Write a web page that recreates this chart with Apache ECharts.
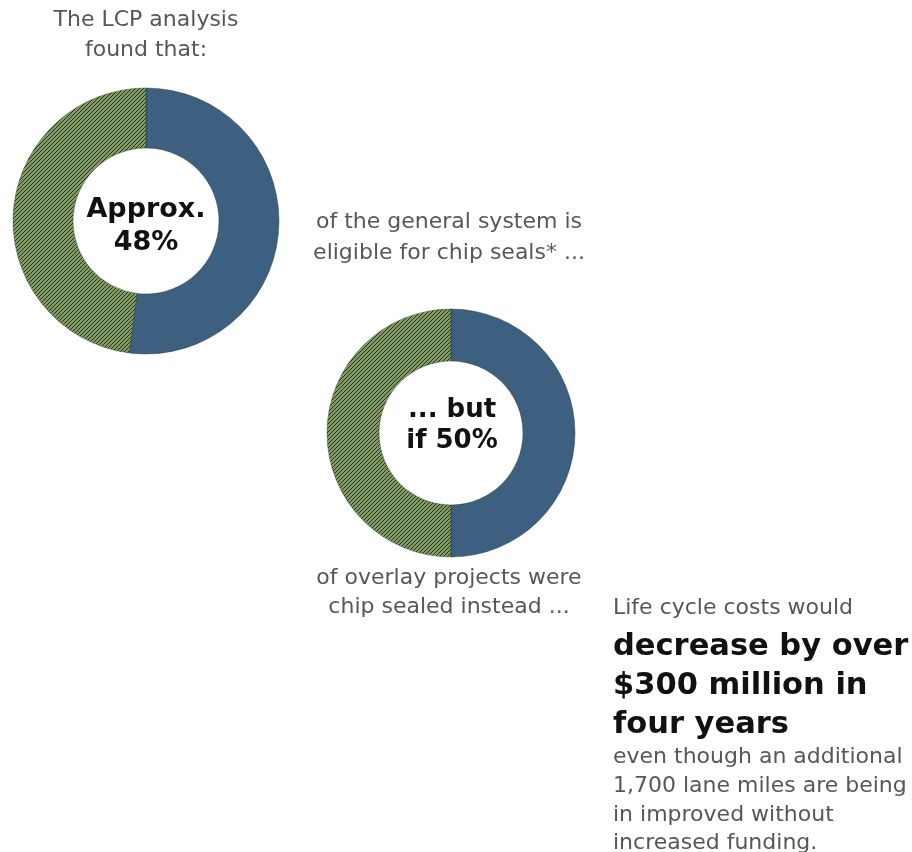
<!DOCTYPE html>
<html>
<head>
<meta charset="utf-8">
<script src="https://cdn.jsdelivr.net/npm/echarts@6/dist/echarts.min.js"></script>
<style>
  html, body { margin: 0; padding: 0; background: #ffffff; }
  #chart { width: 912px; height: 852px; }
</style>
</head>
<body>
<div id="chart"></div>
<script>
// Share of the general system eligible for chip seals
const eligibleNames = ['Not eligible', 'Eligible for chip seals'];
const eligibleValues = [52, 48];

// Share of overlay projects switched to chip seals
const overlayNames = ['Overlay', 'Chip sealed instead'];
const overlayValues = [50, 50];

const FONT = '"DejaVu Sans", Verdana, sans-serif';
const GRAY = '#575757';
const BLUE = '#3d5f80';

// Diagonal hatch used for the chip-seal share
function hatchPattern() {
  const c = document.createElement('canvas');
  c.width = 4; c.height = 4;
  const g = c.getContext('2d');
  g.fillStyle = '#7f9a62';
  g.fillRect(0, 0, 4, 4);
  g.strokeStyle = '#2a3420';
  g.lineWidth = 1.0;
  g.beginPath();
  g.moveTo(0, 4); g.lineTo(4, 0);
  g.moveTo(-1, 1); g.lineTo(1, -1);
  g.moveTo(3, 5); g.lineTo(5, 3);
  g.stroke();
  return c;
}
const hatch = { image: hatchPattern(), repeat: 'repeat' };

function donut(names, values, center, radius) {
  return {
    type: 'pie',
    center: center,
    radius: radius,
    startAngle: 90,
    clockwise: true,
    silent: true,
    label: { show: false },
    labelLine: { show: false },
    data: values.map((v, i) => ({
      name: names[i],
      value: v,
      itemStyle: { color: i === 0 ? BLUE : hatch, borderColor: '#1e2a1a', borderWidth: 0.4 }
    }))
  };
}

function text(x, y, str, size, opts) {
  opts = opts || {};
  return {
    type: 'text',
    x: x, y: y,
    style: {
      text: str,
      font: (opts.weight || 'normal') + ' ' + size + 'px ' + FONT,
      fill: opts.fill || GRAY,
      align: opts.align || 'center',
      verticalAlign: 'middle'
    }
  };
}

const BOLD = { weight: 'bold', fill: '#111' };
const BOLD_LEFT = { weight: 'bold', fill: '#111', align: 'left' };
const LEFT = { align: 'left' };

const chart = echarts.init(document.getElementById('chart'), null, { renderer: 'canvas' });
chart.setOption({
  backgroundColor: '#ffffff',
  animation: false,
  series: [
    donut(eligibleNames, eligibleValues, [146, 221], [73, 133]),
    donut(overlayNames, overlayValues, [451, 433], [72, 124])
  ],
  graphic: [
    text(146, 20, 'The LCP analysis', 22),
    text(146, 50, 'found that:', 22),
    text(146, 210, 'Approx.', 27, BOLD),
    text(146, 243, '48%', 27, BOLD),
    text(449, 222, 'of the general system is', 22),
    text(449, 253, 'eligible for chip seals* ...', 22),
    text(452, 410, '... but', 26, BOLD),
    text(452, 441, 'if 50%', 26, BOLD),
    text(449, 578, 'of overlay projects were', 22),
    text(449, 607, 'chip sealed instead ...', 22),
    text(613, 608, 'Life cycle costs would', 22, LEFT),
    text(613, 647, 'decrease by over', 30.5, BOLD_LEFT),
    text(613, 686, '$300 million in', 30.5, BOLD_LEFT),
    text(613, 725, 'four years', 30.5, BOLD_LEFT),
    text(613, 757, 'even though an additional', 22, LEFT),
    text(613, 786, '1,700 lane miles are being', 22, LEFT),
    text(613, 815, 'in improved without', 22, LEFT),
    text(613, 843, 'increased funding.', 22, LEFT)
  ]
});
</script>
</body>
</html>
